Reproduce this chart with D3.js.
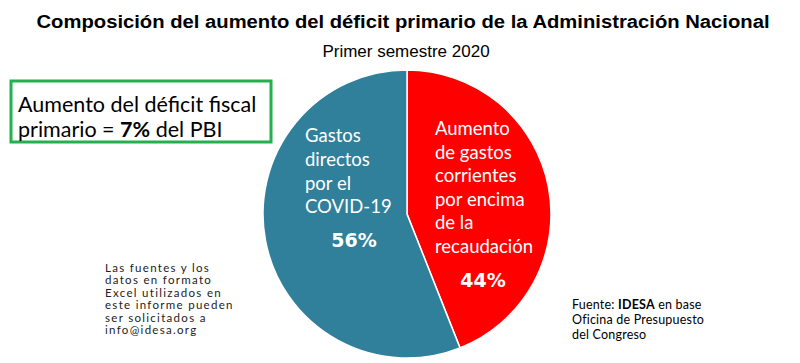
<!DOCTYPE html>
<html><head><meta charset="utf-8">
<script src="https://cdn.jsdelivr.net/npm/d3@7"></script>
<style>body{margin:0;background:#fff}svg{display:block}</style>
</head><body><svg id="c" width="800" height="363"></svg>
<script>
const title = "Composición del aumento del déficit primario de la Administración Nacional";
const subtitle = "Primer semestre 2020";
const categories = ["Aumento de gastos corrientes por encima de la recaudación", "Gastos directos por el COVID-19"];
const values = [44, 56];
const colors = ["#FF0000", "#31809B"];
const labelLines = [["Aumento","de gastos","corrientes","por encima","de la","recaudación"], ["Gastos","directos","por el","COVID-19"]];
const boxLines = [["Aumento del déficit fiscal"], ["primario = ", "7%", " del PBI"]];
const noteLines = ["Las fuentes y los","datos en formato","Excel utilizados en","este informe pueden","ser solicitados a","info@idesa.org"];
const sourceLines = [["Fuente: ","IDESA"," en base"],["Oficina de Presupuesto"],["del Congreso"]];

const svg = d3.select("#c");
svg.append("text").attr("x",403).attr("y",28).attr("text-anchor","middle")
  .attr("font-family","Liberation Sans, Arial, sans-serif").attr("font-weight","bold").attr("font-size",17.5)
  .attr("textLength",733).attr("lengthAdjust","spacingAndGlyphs").attr("fill","#000").text(title);
svg.append("text").attr("x",406).attr("y",57).attr("text-anchor","middle")
  .attr("font-family","Liberation Sans, Arial, sans-serif").attr("font-size",17)
  .attr("fill","#000").text(subtitle);

// pie
const cx = 407, cy = 214, r = 144;
const pie = d3.pie().sort(null).value(d=>d)(values);
const arc = d3.arc().innerRadius(0).outerRadius(r);
const g = svg.append("g").attr("transform",`translate(${cx},${cy})`);
g.selectAll("path").data(pie).join("path").attr("d",arc)
  .attr("fill",(d,i)=>colors[i]).attr("stroke","#fff").attr("stroke-width",1.5);

// labels
const lf = "Lato, 'Open Sans', sans-serif";
const lx = [435, 305], ly0 = [135, 142], lh = [23.6, 23.8];
labelLines.forEach((lines,i)=>{
  const t = svg.append("text").attr("font-family",lf).attr("font-size",18.5).attr("fill","#fff");
  lines.forEach((l,j)=>t.append("tspan").attr("x",lx[i]).attr("y",ly0[i]+j*lh[i]).text(l));
});
const px = [483, 354], py = [287, 247];
values.forEach((v,i)=>{
  svg.append("text").attr("x",px[i]).attr("y",py[i]).attr("text-anchor","middle")
    .attr("font-family","'DejaVu Sans', Verdana, sans-serif").attr("font-weight","bold").attr("font-size",19)
    .attr("fill","#fff").text(v+"%");
});

// box
svg.append("rect").attr("x",11).attr("y",81).attr("width",260).attr("height",61)
  .attr("fill","#fff").attr("stroke","#23B04E").attr("stroke-width",3);
const bt = svg.append("text").attr("font-family",lf).attr("font-size",21.5).attr("fill","#000");
boxLines.forEach((parts,j)=>{
  parts.forEach((p,k)=>{
    const s = bt.append("tspan").attr("font-weight",p==="7%"?"bold":"normal").text(p);
    if(k===0) s.attr("x",18).attr("y",112+j*25);
  });
});

// note
const nt = svg.append("text").attr("font-family",lf).attr("font-size",11.5).attr("letter-spacing",1.3).attr("fill","#222");
noteLines.forEach((l,j)=>nt.append("tspan").attr("x",105).attr("y",272+j*12.4).text(l));

// source
const st = svg.append("text").attr("font-family",lf).attr("font-size",12.5).attr("letter-spacing",0.2).attr("fill","#000");
sourceLines.forEach((parts,j)=>{
  parts.forEach((p,k)=>{
    const s = st.append("tspan").attr("font-weight",p==="IDESA"?"bold":"normal").text(p);
    if(k===0) s.attr("x",572).attr("y",309+j*15);
  });
});
</script></body></html>
